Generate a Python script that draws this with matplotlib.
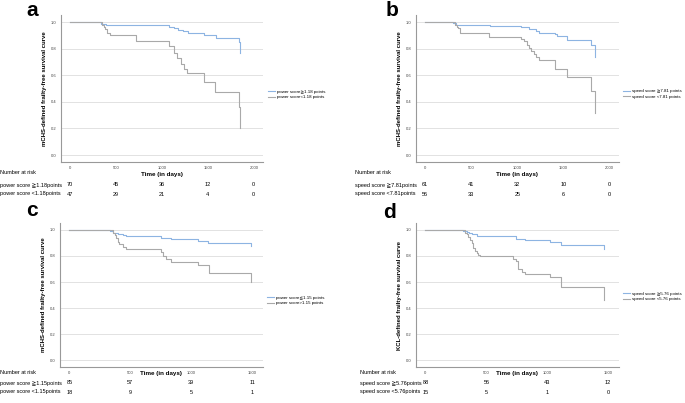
import matplotlib
import matplotlib.pyplot as plt
import matplotlib.transforms as mtransforms

matplotlib.use("Agg")
plt.rcParams["font.family"] = ["Liberation Sans", "DejaVu Sans", "Noto Sans CJK JP"]

W, H = 685, 403

# Panel a: mCHS, power score 1.18
a_hi_t = [0, 340, 390, 730, 1080, 1130, 1180, 1230, 1280, 1460, 1590, 1840, 1845, 1850]
a_hi_s = [1.0, 0.985, 0.98, 0.975, 0.965, 0.955, 0.94, 0.93, 0.92, 0.905, 0.88, 0.85, 0.80, 0.765]
a_lo_t = [0, 350, 370, 385, 400, 410, 440, 720, 1080, 1134, 1170, 1207, 1243, 1272, 1460, 1580, 1840, 1845]
a_lo_s = [1.0, 0.98, 0.96, 0.95, 0.93, 0.915, 0.90, 0.857, 0.82, 0.765, 0.73, 0.684, 0.644, 0.614, 0.551, 0.476, 0.363, 0.2]

# Panel b: mCHS, speed score 7.81
b_hi_t = [0, 300, 340, 700, 1040, 1090, 1130, 1160, 1200, 1240, 1410, 1430, 1540, 1800, 1840]
b_hi_s = [1.0, 0.99, 0.98, 0.97, 0.965, 0.96, 0.95, 0.945, 0.93, 0.915, 0.91, 0.895, 0.868, 0.826, 0.737]
b_lo_t = [0, 330, 345, 360, 378, 697, 1036, 1071, 1100, 1125, 1150, 1178, 1205, 1232, 1411, 1536, 1796, 1840]
b_lo_s = [1.0, 0.98, 0.965, 0.952, 0.92, 0.884, 0.87, 0.855, 0.83, 0.808, 0.785, 0.763, 0.735, 0.712, 0.649, 0.586, 0.485, 0.32]

# Panel c: mCHS, power score 1.15
c_hi_t = [0, 330, 354, 395, 436, 464, 754, 837, 1058, 1141, 1495]
c_hi_s = [1.0, 0.992, 0.98, 0.969, 0.962, 0.957, 0.941, 0.931, 0.916, 0.898, 0.875]
c_lo_t = [0, 355, 370, 381, 395, 409, 436, 464, 754, 768, 795, 837, 1058, 1150, 1495]
c_lo_s = [1.0, 0.98, 0.96, 0.936, 0.91, 0.89, 0.872, 0.854, 0.834, 0.80, 0.78, 0.752, 0.727, 0.668, 0.60]

# Panel d: KCL, speed score 5.76
d_hi_t = [0, 312, 339, 360, 380, 421, 747, 815, 1019, 1113, 1465]
d_hi_s = [1.0, 0.993, 0.987, 0.975, 0.967, 0.955, 0.932, 0.919, 0.907, 0.886, 0.856]
d_lo_t = [0, 325, 340, 352, 366, 380, 394, 407, 420, 434, 448, 720, 747, 761, 790, 815, 1019, 1113, 1465]
d_lo_s = [1.0, 0.98, 0.965, 0.949, 0.925, 0.899, 0.861, 0.836, 0.82, 0.806, 0.798, 0.78, 0.76, 0.698, 0.68, 0.665, 0.635, 0.56, 0.46]

# Number at risk tables
a_risk_t = [0, 500, 1000, 1500, 2000]
a_risk_hi = [70, 45, 36, 12, 0]
a_risk_lo = [47, 29, 21, 4, 0]
b_risk_hi = [61, 41, 32, 10, 0]
b_risk_lo = [56, 33, 25, 6, 0]
c_risk_t = [0, 500, 1000, 1500]
c_risk_hi = [85, 57, 39, 11]
c_risk_lo = [18, 9, 5, 1]
d_risk_hi = [88, 56, 43, 12]
d_risk_lo = [15, 5, 1, 0]

BLUE = "#8db4e2"
GRAY = "#a9a9a9"

fig = plt.figure(figsize=(W / 100, H / 100), dpi=100)


def panel(box, letter, letter_xy, ylabel, hi, lo, leg, leg_xy, risk, rows, tab_x, tab_y,
          xmax, xticks, xlab_y):
    x0, y0, x1, y1 = box
    ax = fig.add_axes([x0 / W, 1 - y1 / H, (x1 - x0) / W, (y1 - y0) / H])
    ax.step(hi[0], hi[1], where="post", color=BLUE, lw=0.8, label=leg[0])
    ax.step(lo[0], lo[1], where="post", color=GRAY, lw=0.8, label=leg[1])
    ax.set_xlim(xmax[0], xmax[1])
    ax.set_ylim(-0.052, 1.053)
    ax.set_xticks(xticks)
    ax.set_yticks([0, 0.2, 0.4, 0.6, 0.8, 1.0])
    ax.set_yticklabels(["0.0", "0.2", "0.4", "0.6", "0.8", "1.0"])
    ax.tick_params(length=0, labelsize=3, colors="#444444", pad=3)
    ax.grid(axis="y", color="#dddddd", lw=0.6)
    ax.set_axisbelow(True)
    for s in ["top", "right"]:
        ax.spines[s].set_visible(False)
    for s in ["left", "bottom"]:
        ax.spines[s].set_color("#999999")
        ax.spines[s].set_linewidth(0.8)
    ax.set_ylabel(ylabel, fontsize=4.3, fontweight="bold", labelpad=3)
    ax.set_xlabel("Time (in days)", fontsize=4.5, fontweight="bold")
    ax.xaxis.set_label_coords(0.5, xlab_y)

    ax.legend(loc="center left", bbox_to_anchor=(leg_xy[0] / W, 1 - leg_xy[1] / H),
              bbox_transform=fig.transFigure, frameon=False, fontsize=3.2,
              handlelength=1.6, handletextpad=0.3, labelspacing=0.35, borderpad=0)

    fig.text(letter_xy[0] / W, 1 - letter_xy[1] / H, letter, fontsize=15,
             fontweight="bold", ha="left", va="baseline")

    # Number at risk table
    fig.text(tab_x / W, 1 - tab_y[0] / H, "Number at risk", fontsize=4, va="center")
    tr = mtransforms.blended_transform_factory(ax.transData, fig.transFigure)
    for (lab, vals), yy in zip(rows, tab_y[1:]):
        fig.text(tab_x / W, 1 - yy / H, lab, fontsize=4, va="center")
        for t, v in zip(risk, vals):
            ax.text(t, 1 - yy / H, str(v), transform=tr, fontsize=4, ha="center",
                    va="center", clip_on=False)
    return ax


panel((61, 15, 263, 162), "a", (26, 15.5), "mCHS-defined frailty-free survival curve",
      (a_hi_t, a_hi_s), (a_lo_t, a_lo_s),
      ["power score≧1.18 points", "power score<1.18 points"], (266, 94.5),
      a_risk_t, [("power score ≧1.18points", a_risk_hi), ("power score <1.18points", a_risk_lo)],
      0, (173, 185, 194), (-95, 2100), a_risk_t, -0.07)

panel((416, 15, 619, 162), "b", (386, 15.5), "mCHS-defined frailty-free survival curve",
      (b_hi_t, b_hi_s), (b_lo_t, b_lo_s),
      ["speed score ≧7.81 points", "speed score <7.81 points"], (621, 94),
      a_risk_t, [("speed score ≧7.81points", b_risk_hi), ("speed score <7.81points", b_risk_lo)],
      355, (173, 185, 194), (-95, 2100), a_risk_t, -0.07)

panel((60, 223, 263, 367), "c", (26, 216), "mCHS-defined frailty-free survival curve",
      (c_hi_t, c_hi_s), (c_lo_t, c_lo_s),
      ["power score≦1.15 points", "power score>1.15 points"], (265, 300.5),
      c_risk_t, [("power score ≧1.15points", c_risk_hi), ("power score <1.15points", c_risk_lo)],
      0, (373, 383, 392), (-78, 1590), c_risk_t, -0.025)

panel((416, 223, 619, 367), "d", (383, 218), "KCL-defined frailty-free survival curve",
      (d_hi_t, d_hi_s), (d_lo_t, d_lo_s),
      ["speed score ≧5.76 points", "speed score <5.76 points"], (621, 296.5),
      c_risk_t, [("speed score ≧5.76points", d_risk_hi), ("speed score <5.76points", d_risk_lo)],
      360, (373, 383, 392), (-78, 1590), c_risk_t, -0.025)

fig.savefig("out.png", dpi=100)
